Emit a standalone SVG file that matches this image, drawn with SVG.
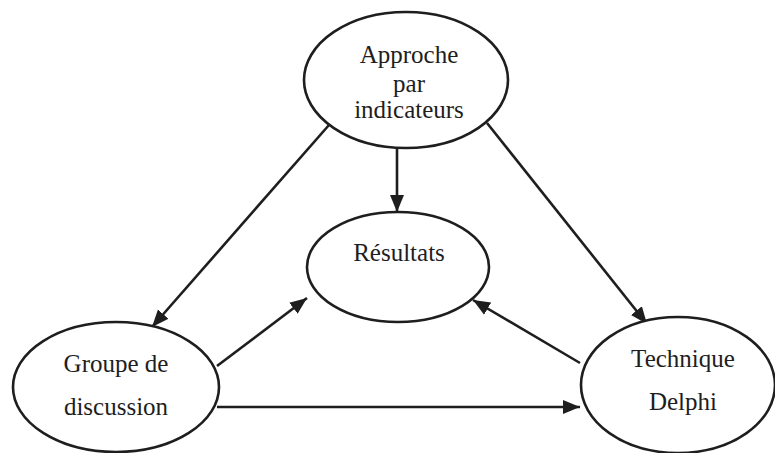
<svg xmlns="http://www.w3.org/2000/svg" width="775" height="453" viewBox="0 0 775 453">
<style>
.node ellipse{fill:#fff;stroke:#1e1e1e;stroke-width:2.6}
.node text{font-family:"Liberation Serif","Times New Roman",serif;font-size:25px;fill:#1e1e1e;text-anchor:middle}
.edge{stroke:#1e1e1e;stroke-width:2.6;fill:none;marker-end:url(#ah)}
</style>
<defs>
<marker id="ah" markerUnits="userSpaceOnUse" markerWidth="19" markerHeight="16" refX="17" refY="7.5" orient="auto">
<path d="M0,0.5 L17,7.5 L0,14.5 z" fill="#1e1e1e"/>
</marker>
</defs>
<rect width="775" height="453" fill="#fff"/>
<g id="connectors">
<line class="edge" x1="329" y1="125" x2="152" y2="327"/>
<line class="edge" x1="397" y1="148" x2="397" y2="212"/>
<line class="edge" x1="487" y1="123" x2="647" y2="324"/>
<line class="edge" x1="217" y1="366" x2="307" y2="298"/>
<line class="edge" x1="580" y1="363" x2="473" y2="300"/>
<line class="edge" x1="217" y1="407" x2="580" y2="407"/>
</g>
<g id="approche" class="node">
<ellipse cx="406" cy="80" rx="102" ry="68"/>
<text x="409" y="63">Approche</text>
<text x="409" y="92">par</text>
<text x="409" y="118">indicateurs</text>
</g>
<g id="resultats" class="node">
<ellipse cx="398" cy="267" rx="91" ry="55"/>
<text x="399" y="261">Résultats</text>
</g>
<g id="groupe" class="node">
<ellipse cx="116" cy="387" rx="103" ry="65"/>
<text x="116" y="372">Groupe de</text>
<text x="116" y="415">discussion</text>
</g>
<g id="delphi" class="node">
<ellipse cx="678" cy="385" rx="97" ry="68"/>
<text x="683" y="367">Technique</text>
<text x="683" y="410">Delphi</text>
</g>
</svg>
